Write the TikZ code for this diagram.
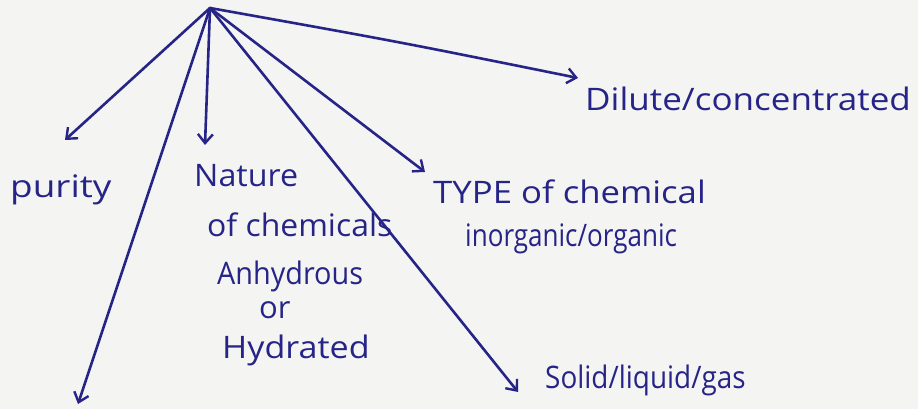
\documentclass[tikz,border=0pt]{standalone}
\usepackage{fontspec}
\setmainfont{Open Sans}
\usetikzlibrary{arrows.meta}
\definecolor{ink}{RGB}{38,36,135}
\definecolor{paper}{RGB}{244,244,242}
\newcommand{\hw}[2]{\scalebox{#1}[1]{#2}}
\begin{document}
\begin{tikzpicture}[x=1pt,y=-1pt,
  ink line/.style={draw=ink,line width=2.6pt,line cap=round,
    -{Straight Barb[length=9pt,width=15pt,line width=2.4pt]}},
  label/.style={text=ink,inner sep=0pt,anchor=base west,font=\fontsize{31}{31}\selectfont}]
\fill[paper] (0,0) rectangle (918,409);
\useasboundingbox (0,0) rectangle (918,409);
\coordinate (hub) at (210,8);
\node[label] (purity) at (10,197) {\hw{1.19}{purity}};
\node[label] (nature) at (194,186) {\hw{1.04}{Nature}};
\node[label] (ofchem) at (207,236) {\hw{1.03}{of chemicals}};
\node[label] (anhyd) at (217,284) {\hw{0.93}{Anhydrous}};
\node[label] (or) at (259,318) {or};
\node[label] (hydr) at (222,358) {\hw{1.1}{Hydrated}};
\node[label] (type) at (433,203) {\hw{1.12}{TYPE of chemical}};
\node[label] (inorg) at (465,246) {\hw{0.84}{inorganic/organic}};
\node[label] (dilute) at (585,111) {\hw{1.13}{Dilute/concentrated}};
\node[label] (solid) at (545,388) {\hw{0.9}{Solid/liquid/gas}};
\coordinate (longend) at (78,404);
\draw[ink line] (hub) -- ([xshift=55pt,yshift=57pt]purity.base west);
\draw[ink line] (hub) -- (longend);
\draw[ink line] (hub) -- ([xshift=11pt,yshift=41pt]nature.base west);
\draw[ink line] (hub) -- ([xshift=-8pt,yshift=31pt]type.base west);
\draw[ink line] (hub) -- ([xshift=-27pt,yshift=-4pt]solid.base west);
\draw[ink line] (hub) .. controls (400,42) .. ([xshift=-7pt,yshift=33pt]dilute.base west);
\end{tikzpicture}
\end{document}
